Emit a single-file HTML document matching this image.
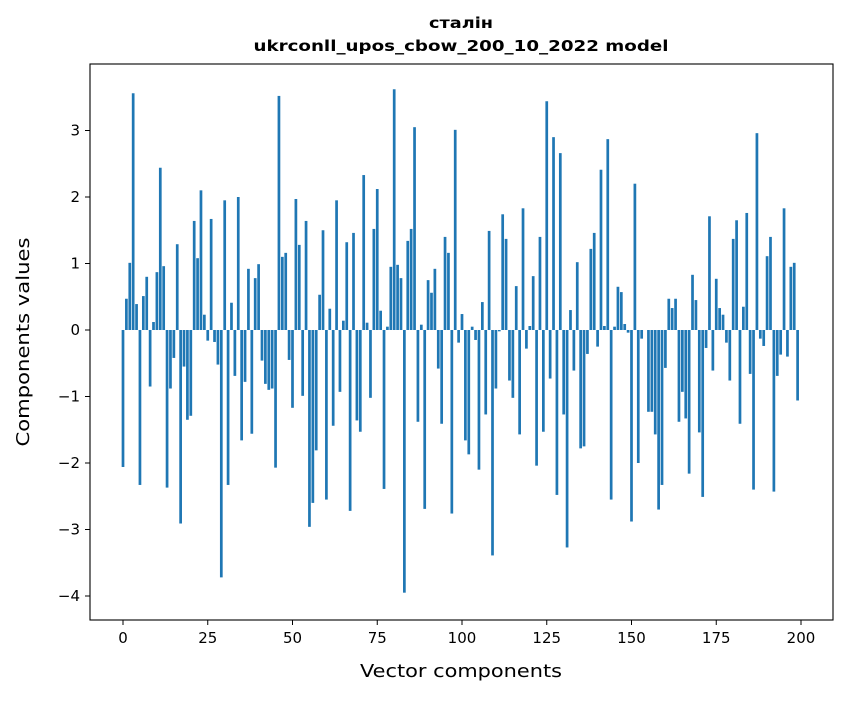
<!DOCTYPE html>
<html><head><meta charset="utf-8"><style>
body{margin:0;background:#fff;}
svg text{font-family:"DejaVu Sans","Liberation Sans",sans-serif;fill:#000;}
</style></head><body>
<svg id="chart" width="847" height="696" xmlns="http://www.w3.org/2000/svg">
<text x="461" y="28" font-size="15" font-weight="bold" text-anchor="middle" textLength="64" lengthAdjust="spacingAndGlyphs">сталін</text>
<text x="461" y="51" font-size="15" font-weight="bold" text-anchor="middle" textLength="415" lengthAdjust="spacingAndGlyphs">ukrconll_upos_cbow_200_10_2022 model</text>
<g id="bars"></g>
<rect x="90" y="64" width="743" height="556" fill="none" stroke="#000" stroke-width="1.1"/>
<g id="xticks"></g>
<g id="yticks"></g>
<text x="461" y="677" font-size="18" text-anchor="middle" textLength="202" lengthAdjust="spacingAndGlyphs">Vector components</text>
<text x="0" y="0" font-size="18" text-anchor="middle" textLength="209" lengthAdjust="spacingAndGlyphs" transform="translate(29,342) rotate(-90)">Components values</text>
</svg>
<script>
const values = [
-2.06,0.47,1.01,3.56,0.39,-2.33,0.51,0.8,-0.85,0.12,
0.87,2.44,0.96,-2.37,-0.88,-0.42,1.29,-2.91,-0.55,-1.35,
-1.29,1.64,1.08,2.1,0.23,-0.16,1.67,-0.18,-0.52,-3.72,
1.95,-2.33,0.41,-0.69,2.0,-1.66,-0.78,0.92,-1.56,0.78,
0.99,-0.46,-0.81,-0.9,-0.88,-2.07,3.52,1.1,1.16,-0.45,
-1.17,1.97,1.28,-0.99,1.64,-2.96,-2.6,-1.81,0.53,1.5,
-2.55,0.32,-1.44,1.95,-0.93,0.14,1.32,-2.72,1.46,-1.36,
-1.53,2.33,0.11,-1.02,1.52,2.12,0.29,-2.39,0.05,0.95,
3.62,0.98,0.78,-3.95,1.34,1.52,3.05,-1.38,0.08,-2.69,
0.75,0.56,0.92,-0.58,-1.41,1.4,1.16,-2.76,3.01,-0.19,
0.24,-1.66,-1.87,0.05,-0.15,-2.1,0.42,-1.27,1.49,-3.39,
-0.88,-0.02,1.74,1.37,-0.76,-1.02,0.66,-1.57,1.83,-0.28,
0.06,0.81,-2.04,1.4,-1.53,3.44,-0.73,2.9,-2.48,2.66,
-1.27,-3.27,0.3,-0.61,1.02,-1.78,-1.75,-0.36,1.22,1.46,
-0.25,2.41,0.06,2.87,-2.55,0.05,0.65,0.57,0.09,-0.04,
-2.88,2.2,-2.0,-0.13,0.0,-1.23,-1.23,-1.57,-2.7,-2.33,
-0.57,0.47,0.33,0.47,-1.38,-0.93,-1.33,-2.16,0.83,0.45,
-1.54,-2.51,-0.27,1.71,-0.61,0.77,0.33,0.23,-0.19,-0.76,
1.37,1.65,-1.41,0.35,1.76,-0.66,-2.4,2.96,-0.13,-0.24,
1.11,1.4,-2.43,-0.69,-0.37,1.83,-0.4,0.95,1.01,-1.06
];
const xTickLabels = [0,25,50,75,100,125,150,175,200];
const yTickLabels = [-4,-3,-2,-1,0,1,2,3];
const NS = "http://www.w3.org/2000/svg";
function xs(v){return 123 + v*3.39;}
function ys(v){return 330 - v*66.5;}
const bars = document.getElementById('bars');
values.forEach((v,i)=>{
  const r = document.createElementNS(NS,'rect');
  
  
  const w = 0.8*3.39;
  r.setAttribute('x', xs(i)-w/2);
  r.setAttribute('y', Math.min(ys(v), ys(0)));
  r.setAttribute('width', w);
  r.setAttribute('height', Math.abs(ys(v)-ys(0)));
  r.setAttribute('fill', '#1f77b4');
  bars.appendChild(r);
});
const xg = document.getElementById('xticks');
xTickLabels.forEach(t=>{
  const l = document.createElementNS(NS,'line');
  
  
  l.setAttribute('x1', xs(t)); l.setAttribute('x2', xs(t));
  l.setAttribute('y1', 620); l.setAttribute('y2', 625);
  l.setAttribute('stroke', '#000');
  xg.appendChild(l);
  const tx = document.createElementNS(NS,'text');
  
  
  tx.setAttribute('x', xs(t)); tx.setAttribute('y', 643);
  tx.setAttribute('font-size', '15'); tx.setAttribute('text-anchor', 'middle');
  tx.textContent = t;
  xg.appendChild(tx);
});
const yg = document.getElementById('yticks');
yTickLabels.forEach(t=>{
  const l = document.createElementNS(NS,'line');
  
  
  l.setAttribute('x1', 85); l.setAttribute('x2', 90);
  l.setAttribute('y1', ys(t)); l.setAttribute('y2', ys(t));
  l.setAttribute('stroke', '#000');
  yg.appendChild(l);
  const tx = document.createElementNS(NS,'text');
  
  
  tx.setAttribute('x', 80); tx.setAttribute('y', ys(t)+5);
  tx.setAttribute('font-size', '15'); tx.setAttribute('text-anchor', 'end');
  tx.textContent = t < 0 ? '\u2212' + Math.abs(t) : t;
  yg.appendChild(tx);
});
</script>
</body></html>
